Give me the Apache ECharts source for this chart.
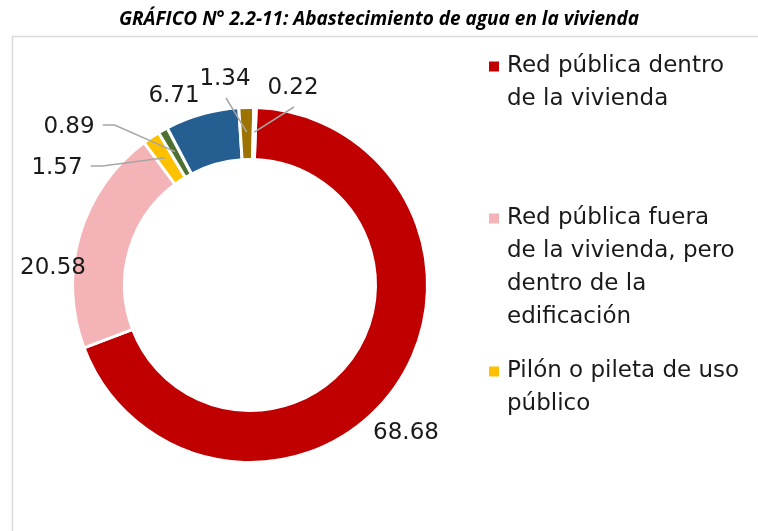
<!DOCTYPE html>
<html>
<head>
<meta charset="utf-8">
<script src="https://cdn.jsdelivr.net/npm/echarts@6/dist/echarts.min.js"></script>
<style>
  html, body { margin: 0; padding: 0; background: #fff; }
  #main { width: 758px; height: 531px; }
</style>
</head>
<body>
<div id="main"></div>
<script>
// categorias y valores (%)
var categorias = [
    'Red pública dentro de la vivienda',
    'Red pública fuera de la vivienda, pero dentro de la edificación',
    'Pilón o pileta de uso público',
    'Camión - cisterna u otro similar',
    'Pozo',
    'Río, acequia, manantial o similar',
    'Otro'
];
var valores = [68.68, 20.58, 1.57, 0.89, 6.71, 1.34, 0.22];
var colores = ['#C00000', '#F4B3B6', '#FFC000', '#4E7030', '#255E91', '#9C7300', '#FFFFFF'];

// textos de la leyenda partidos en lineas
var lineasLeyenda = {
    'Red pública dentro de la vivienda': ['Red pública dentro', 'de la vivienda'],
    'Red pública fuera de la vivienda, pero dentro de la edificación': ['Red pública fuera', 'de la vivienda, pero', 'dentro de la', 'edificación'],
    'Pilón o pileta de uso público': ['Pilón o pileta de uso', 'público']
};

var centro = [250, 285];
var anguloInicio = 88;
var fuente = 'DejaVu Sans';
var tamFuente = 23;

// posicion de las etiquetas y tipo de guia
var posEtiquetas = [
    { x: 406, y: 433, guia: 'no' },
    { x: 53, y: 268, guia: 'no' },
    { x: 57, y: 168, guia: 'izq' },
    { x: 69, y: 127, guia: 'izq' },
    { x: 174, y: 96, guia: 'no' },
    { x: 225, y: 79, guia: 'arriba' },
    { x: 293, y: 88, guia: 'arriba' }
];

var datos = valores.map(function (v, i) {
    return {
        name: categorias[i],
        value: v,
        itemStyle: { color: colores[i] }
    };
});

var total = valores.reduce(function (a, b) { return a + b; }, 0);

// punto medio del anillo para la porcion i
function puntoMedio(i, r) {
    var acum = 0;
    for (var k = 0; k < i; k++) acum += valores[k];
    var ang = (anguloInicio - 360 * (acum + valores[i] / 2) / total) * Math.PI / 180;
    return [centro[0] + r * Math.cos(ang), centro[1] - r * Math.sin(ang)];
}

// ancho del texto de una etiqueta
var ctx = document.createElement('canvas').getContext('2d');
ctx.font = tamFuente + 'px "' + fuente + '"';
function anchoTexto(t) { return ctx.measureText(t).width; }

// guias de las etiquetas pequenas
var guias = [];
valores.forEach(function (v, i) {
    var pos = posEtiquetas[i];
    if (pos.guia === 'no') return;
    var p0 = puntoMedio(i, 153);
    var pts;
    if (pos.guia === 'izq') {
        var xr = pos.x + anchoTexto(v.toFixed(2)) / 2 + 8;
        var yl = pos.y - 2;
        pts = [[xr, yl], [xr + 12, yl], p0];
    } else {
        pts = [[pos.x + 1, pos.y + 19], p0];
    }
    guias.push({
        type: 'polyline',
        z: 10,
        shape: { points: pts },
        style: { stroke: '#A6A6A6', lineWidth: 1.5, fill: null },
        silent: true
    });
});

function formatoLeyenda(name) {
    var idx = categorias.indexOf(name);
    var key = ['r', 'p', 'y'][idx];
    var lineas = lineasLeyenda[name];
    return lineas.map(function (l, j) {
        return (j === 0 ? '{' + key + '|}' : '{s|}') + '{g|}{t|' + l + '}';
    }).join('\n');
}

var richLeyenda = {
    r: { width: 10, height: 10, backgroundColor: colores[0] },
    p: { width: 10, height: 10, backgroundColor: colores[1] },
    y: { width: 10, height: 10, backgroundColor: colores[2] },
    s: { width: 10, height: 10 },
    g: { width: 8 },
    t: { fontSize: tamFuente, fontFamily: fuente, color: '#1a1a1a', lineHeight: 33 }
};

var option = {
    backgroundColor: '#fff',
    animation: false,
    title: {
        text: 'GRÁFICO N° 2.2-11: Abastecimiento de agua en la vivienda',
        left: 'center',
        top: 5,
        textStyle: {
            fontFamily: 'Liberation Sans Narrow, Open Sans',
            fontStyle: 'italic',
            fontWeight: 'bold',
            fontSize: 19,
            color: '#000'
        }
    },
    graphic: [{
        type: 'polyline',
        shape: { points: [[12.5, 531], [12.5, 36.5], [758, 36.5]] },
        style: { stroke: '#D9D9D9', lineWidth: 1.5, fill: null },
        silent: true
    }].concat(guias),
    legend: [{
        left: 479,
        top: 50,
        orient: 'vertical',
        icon: 'none',
        itemWidth: 0,
        itemGap: 20,
        data: [categorias[0]],
        formatter: formatoLeyenda,
        textStyle: { rich: richLeyenda },
        selectedMode: false
    }, {
        left: 479,
        top: 202,
        orient: 'vertical',
        icon: 'none',
        itemWidth: 0,
        itemGap: 31,
        data: [categorias[1], categorias[2]],
        formatter: formatoLeyenda,
        textStyle: { rich: richLeyenda },
        selectedMode: false
    }],
    series: [{
        type: 'pie',
        center: centro,
        radius: [125.5, 177.5],
        startAngle: anguloInicio,
        clockwise: true,
        avoidLabelOverlap: false,
        itemStyle: { borderColor: '#fff', borderWidth: 3 },
        label: {
            show: true,
            position: 'outside',
            formatter: function (p) { return p.value.toFixed(2); },
            fontFamily: fuente,
            fontSize: tamFuente,
            color: '#1a1a1a'
        },
        labelLine: { show: false },
        labelLayout: function (params) {
            var pos = posEtiquetas[params.dataIndex];
            return { x: pos.x, y: pos.y, align: 'center', verticalAlign: 'middle' };
        },
        data: datos
    }]
};

var myChart = echarts.init(document.getElementById('main'));
myChart.setOption(option);
</script>
</body>
</html>
